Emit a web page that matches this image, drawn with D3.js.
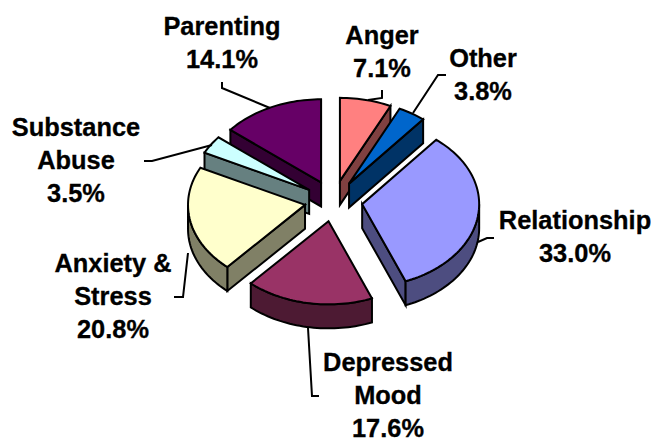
<!DOCTYPE html>
<html>
<head>
<meta charset="utf-8">
<script src="https://cdn.jsdelivr.net/npm/d3@7"></script>
<style>
  html, body { margin: 0; padding: 0; background: #fff; }
  svg { display: block; }
  text { font-family: "Liberation Sans", Arial, sans-serif; font-weight: bold; font-size: 25.4px; fill: #000; stroke: #000; stroke-width: 0.3px; }
</style>
</head>
<body>
<svg id="chart" width="651" height="440"></svg>
<script>
const width = 651, height = 440;

// chart values, clockwise from 12 o'clock
const categories = ["Anger", "Other", "Relationship", "Depressed Mood", "Anxiety & Stress", "Substance Abuse", "Parenting"];
const percents = [7.1, 3.8, 33.0, 17.6, 20.8, 3.5, 14.1];
const topColors = ["#ff8080", "#0066cc", "#9999ff", "#993366", "#ffffcc", "#ccffff", "#660066"];
const wallColors = ["#804040", "#003366", "#4d4d80", "#4d1a33", "#808066", "#668080", "#330033"];

// label lines as wrapped in the original
const labelLines = [["Anger", "7.1%"], ["Other", "3.8%"], ["Relationship", "33.0%"], ["Depressed", "Mood", "17.6%"],
  ["Anxiety &", "Stress", "20.8%"], ["Substance", "Abuse", "3.5%"], ["Parenting", "14.1%"]];
const labelX = [382, 483, 575, 388, 113, 76, 222];
const labelY = [44, 67, 229, 371, 272, 136, 35];
const lineGap = 33;

// leader lines, [x,y] from the label end to the slice
const leaders = [
  [[382, 90], [382, 98], [368, 100]],
  [[446, 75], [438, 75], [413, 113]],
  [[494, 238], [487, 238], [478, 242]],
  [[319, 396], [312, 396], [308, 328]],
  [[174, 297], [183, 297], [188, 253]],
  [[144, 161], [152, 161], [212, 145]],
  [[222, 82], [222, 88], [270, 108]]
];

// pie projection
const cx = 333.5, cy = 201, radius = 117, tilt = 0.71, depth = 24, explode = 29;

const svg = d3.select("#chart");

const slices = d3.pie().sort(null).value(d => d)(percents);

//project pie angle and radius on the tilted plane
function project(angle, r, center, drop = 0) {
  return [center[0] + r * Math.sin(angle), center[1] - r * tilt * Math.cos(angle) + drop];
}

const line = d3.line();

function arcPoints(a0, a1, center, drop = 0) {
  const n = Math.max(2, Math.ceil((a1 - a0) / 0.03));
  return d3.range(n + 1).map(i => project(a0 + (a1 - a0) * i / n, radius, center, drop));
}

slices.forEach((s, i) => {
  const mid = (s.startAngle + s.endAngle) / 2;
  s.index = i;
  s.center = project(mid, explode, [cx, cy]);
});

// back to front
const drawOrder = [6, 0, 1, 5, 2, 4, 3];

drawOrder.forEach(i => {
  const s = slices[i];
  const g = svg.append("g");
  const a0 = s.startAngle, a1 = s.endAngle;
  const apex = s.center;
  const apexLow = [apex[0], apex[1] + depth];

  const wall = pts => g.append("path")
    .attr("d", line(pts) + "Z")
    .attr("fill", wallColors[i]);

  // cut faces that look towards the viewer
  if (Math.sin(a0) < 0) {
    const p = project(a0, radius, apex);
    wall([apex, p, [p[0], p[1] + depth], apexLow]);
  }
  if (Math.sin(a1) > 0) {
    const p = project(a1, radius, apex);
    wall([apex, p, [p[0], p[1] + depth], apexLow]);
  }

  // rounded outer wall, front half only
  const from = Math.max(a0, Math.PI / 2), to = Math.min(a1, Math.PI * 1.5);
  if (to > from) {
    wall(arcPoints(from, to, apex).concat(arcPoints(from, to, apex, depth).reverse()));
  }

  // top face
  g.append("path")
    .attr("d", line([apex].concat(arcPoints(a0, a1, apex))) + "Z")
    .attr("fill", topColors[i]);

  g.selectAll("path")
    .attr("stroke", "#000")
    .attr("stroke-width", 2)
    .attr("stroke-linejoin", "miter");
});

svg.append("g").selectAll("path")
  .data(leaders)
  .join("path")
  .attr("d", d => line(d))
  .attr("fill", "none")
  .attr("stroke", "#000")
  .attr("stroke-width", 2);

const labels = svg.append("g").selectAll("text")
  .data(labelLines)
  .join("text")
  .attr("text-anchor", "middle")
  .attr("x", (d, i) => labelX[i])
  .attr("y", (d, i) => labelY[i]);

labels.selectAll("tspan")
  .data((d, i) => d.map(t => ({ t, x: labelX[i] })))
  .join("tspan")
  .attr("x", d => d.x)
  .attr("dy", (d, j) => j ? lineGap : 0)
  .text(d => d.t);
</script>
</body>
</html>
